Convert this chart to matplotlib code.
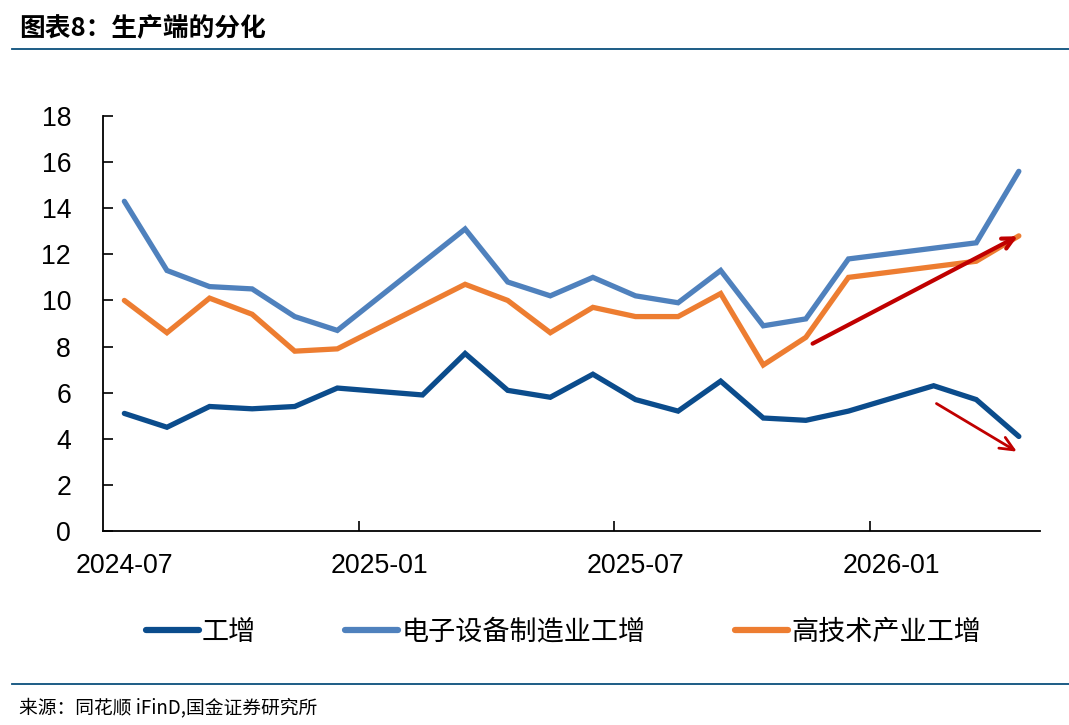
import numpy as np
import matplotlib
matplotlib.use("Agg")
import matplotlib.pyplot as plt
from matplotlib.ticker import FixedLocator

plt.rcParams['font.family'] = ['Noto Sans CJK SC', 'DejaVu Sans']

nan = np.nan
months = ["2024-07", "2024-08", "2024-09", "2024-10", "2024-11", "2024-12",
          "2025-01", "2025-02", "2025-03", "2025-04", "2025-05", "2025-06",
          "2025-07", "2025-08", "2025-09", "2025-10", "2025-11", "2025-12",
          "2026-01", "2026-02", "2026-03", "2026-04"]
industry = [5.1, 4.5, 5.4, 5.3, 5.4, 6.2, nan, 5.9, 7.7, 6.1, 5.8, 6.8,
            5.7, 5.2, 6.5, 4.9, 4.8, 5.2, nan, 6.3, 5.7, 4.1]
electronics = [14.3, 11.3, 10.6, 10.5, 9.3, 8.7, nan, nan, 13.1, 10.8, 10.2, 11.0,
               10.2, 9.9, 11.3, 8.9, 9.2, 11.8, nan, nan, 12.5, 15.6]
hightech = [10.0, 8.6, 10.1, 9.4, 7.8, 7.9, nan, nan, 10.7, 10.0, 8.6, 9.7,
            9.3, 9.3, 10.3, 7.2, 8.4, 11.0, nan, nan, 11.7, 12.8]
series = [("工增", industry, "#0B4C8C"),
          ("电子设备制造业工增", electronics, "#4F81BD"),
          ("高技术产业工增", hightech, "#ED7D31")]
label_months = ["2024-07", "2025-01", "2025-07", "2026-01"]

fig = plt.figure(figsize=(10.69, 7.25), dpi=100)
ax = fig.add_axes([0.0964, 0.2676, 0.8766, 0.5724])

x = np.arange(len(months))
for name, vals, col in series:
    v = np.array(vals, dtype=float)
    ok = np.isfinite(v)
    ax.plot(x[ok], v[ok], color=col, lw=3.8, label=name,
            solid_joinstyle="miter", solid_capstyle="round")

# trend arrows
ax.annotate("", xy=(21.03, 12.84), xytext=(16.1, 8.07),
            arrowprops=dict(arrowstyle="->,head_length=0.8,head_width=0.4",
                            color="#C00000", lw=3))
ax.annotate("", xy=(21.01, 3.38), xytext=(19.01, 5.59),
            arrowprops=dict(arrowstyle="->,head_length=1.0,head_width=0.45",
                            color="#C00000", lw=2))

ax.set_xlim(-0.5, len(months) - 0.5)
ax.set_ylim(0, 18)
ax.set_yticks(np.arange(0, 19, 2))
ax.set_xticks([months.index(m) for m in label_months])
ax.set_xticklabels(label_months)
ax.xaxis.set_minor_locator(FixedLocator([5.5, 11.5, 17.5]))
ax.tick_params(axis="x", which="major", length=0, pad=16)
ax.tick_params(axis="x", which="minor", direction="in", length=7, width=1.2)
ax.tick_params(axis="y", direction="in", length=7, width=1.2, pad=23)
for lab in ax.get_xticklabels() + ax.get_yticklabels():
    lab.set_fontfamily(["Liberation Sans", "DejaVu Sans"])
    lab.set_fontsize(19.2)

for s in ["top", "right"]:
    ax.spines[s].set_visible(False)
for s in ["left", "bottom"]:
    ax.spines[s].set_linewidth(1.3)

leg = fig.legend(loc="center", bbox_to_anchor=(0.527, 0.128), ncol=3, frameon=False,
                 fontsize=19.5, handlelength=1.95, handletextpad=0.12, columnspacing=3.3)
for h in leg.get_lines():
    h.set_linewidth(4.5)

# title and source
fig.text(0.018, 0.961, "图表8：生产端的分化", fontsize=18.5, fontweight="bold",
         ha="left", va="center")
fig.add_artist(plt.Line2D([0.011, 1.0], [0.933, 0.933], color="#0B4F7C", lw=1.3))
fig.add_artist(plt.Line2D([0.011, 1.0], [0.056, 0.056], color="#0B4F7C", lw=1.3))
fig.text(0.018, 0.024, "来源：同花顺 iFinD,国金证券研究所", fontsize=13.5,
         ha="left", va="center")

fig.savefig("out.png", dpi=100)
